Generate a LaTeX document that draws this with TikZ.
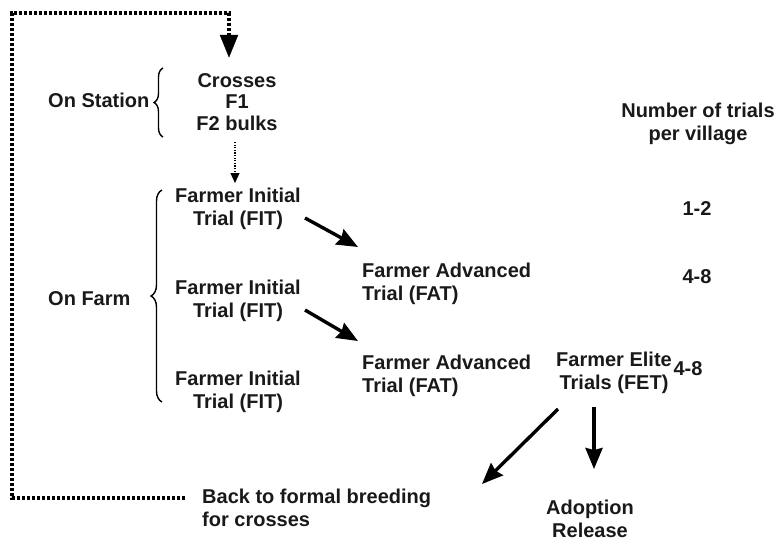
\documentclass[tikz,border=0pt]{standalone}
\usepackage{fontspec}
\setmainfont{Liberation Sans}
\usetikzlibrary{arrows.meta,decorations.pathreplacing}
\newcommand\figfont{\fontsize{20}{23}\selectfont\bfseries}
\newcommand\stackfont{\fontsize{20}{21.5}\selectfont\bfseries}
\begin{document}
\begin{tikzpicture}[x=1pt,y=-1pt,
  lbl/.style={inner sep=0pt,font=\figfont,text=black!90},
  bigarrow/.style={line width=3.4pt,-{Stealth[length=21pt,width=17pt,inset=2pt]}},
  loopline/.style={line width=3.2pt,dash pattern=on 3.4pt off 1.6pt},
  smalldots/.style={line width=1.2pt,dash pattern=on 1.2pt off 1.4pt,-{Triangle[length=10pt,width=9pt]}},
  bracestyle/.style={line width=1.4pt,decorate}]
\useasboundingbox (0,0) rectangle (778,541);

% on-station block (base anchor = baseline of the last line)
\node[lbl,anchor=base,align=center,font=\stackfont] (cross) at (237,130) {Crosses\\F1\\F2 bulks};
\node[lbl,anchor=base west] (station) at (48,107) {On Station};
\draw[bracestyle,decoration={brace,amplitude=9pt}] (163,137) -- (163,68);

% on-farm block
\node[lbl,anchor=base west] (farm) at (48,305) {On Farm};
\draw[bracestyle,decoration={brace,amplitude=11pt}] (162,402) -- (162,190);

\node[lbl,anchor=base,align=center] (fit1) at (238,225) {Farmer Initial\\Trial (FIT)};
\node[lbl,anchor=base,align=center] (fit2) at (238,317) {Farmer Initial\\Trial (FIT)};
\node[lbl,anchor=base,align=center] (fit3) at (238,408) {Farmer Initial\\Trial (FIT)};

\node[lbl,anchor=base west,align=left] (fat1) at (362,300) {Farmer Advanced\\Trial (FAT)};
\node[lbl,anchor=base west,align=left] (fat2) at (362,392) {Farmer Advanced\\Trial (FAT)};
\node[lbl,anchor=base,align=center] (fet) at (614,389) {Farmer Elite\\Trials (FET)};

% trial counts
\node[lbl,anchor=base,align=center] (head) at (698,140) {Number of trials\\per village};
\node[lbl,anchor=base] (n1) at (697,215) {1-2};
\node[lbl,anchor=base] (n2) at (697,283) {4-8};
\node[lbl,anchor=base] (n3) at (688,375) {4-8};

% outcomes
\node[lbl,anchor=base west,align=left] (back) at (202,526) {Back to formal breeding\\for crosses};
\node[lbl,anchor=base,align=center] (adopt) at (590,537) {Adoption\\Release};

% arrow end points
\coordinate (crossout) at (235,142);
\coordinate (fit1in)   at (235,183);
\coordinate (fit1out)  at (305,218);
\coordinate (fat1in)   at (358,247);
\coordinate (fit2out)  at (305,310);
\coordinate (fat2in)   at (358,341);
\coordinate (fetleft)  at (558,409);
\coordinate (backin)   at (482,484);
\coordinate (fetdown)  at (594,407);
\coordinate (adoptin)  at (594,469);

% connectors
\draw[smalldots] (crossout) -- (fit1in);
\draw[bigarrow] (fit1out) -- (fat1in);
\draw[bigarrow] (fit2out) -- (fat2in);
\draw[bigarrow] (fetleft) -- (backin);
\draw[bigarrow] (fetdown) -- (adoptin);

% feedback loop back to crossing
\coordinate (loopstart) at (185,498);
\coordinate (looptop) at (229,57);
\draw[loopline] (loopstart) -- (12,498) -- (12,13) -- (229,13) -- (229,40);
\draw[fill=black] (220,35) -- (238,35) -- (looptop) -- cycle;
\end{tikzpicture}
\end{document}
